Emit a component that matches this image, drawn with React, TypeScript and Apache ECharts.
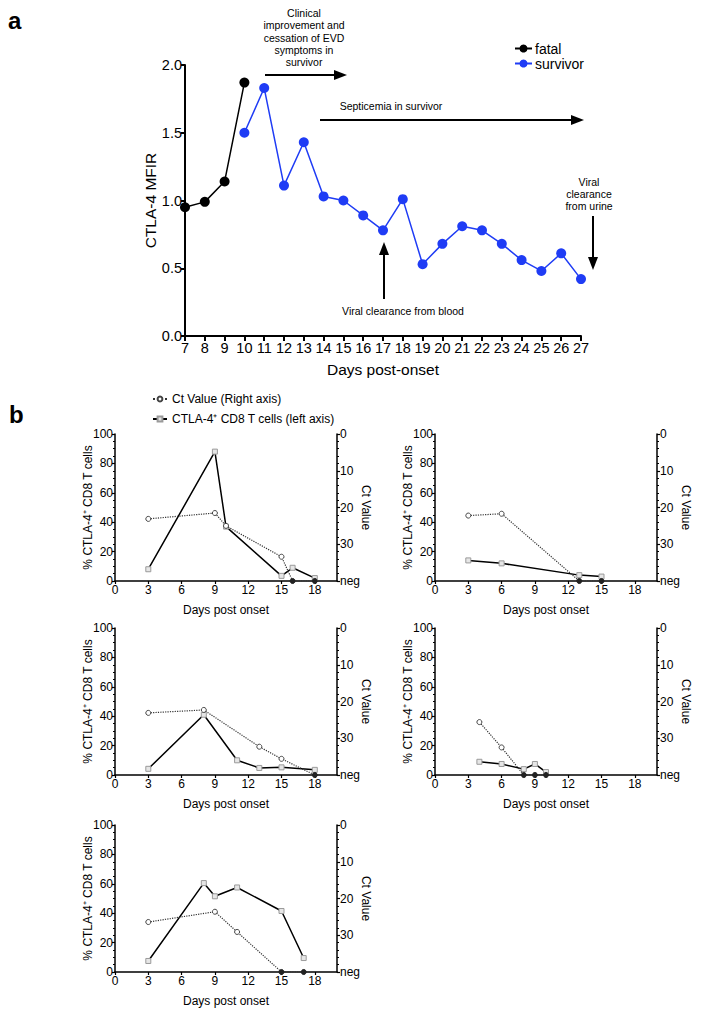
import React, { useEffect, useRef } from "react";
import * as echarts from "echarts";

// ---------- Panel a data ----------
const fatalDays = [7, 8, 9, 10];
const fatalMFIR = [0.95, 0.99, 1.14, 1.87];
const survivorDays = [10, 11, 12, 13, 14, 15, 16, 17, 18, 19, 20, 21, 22, 23, 24, 25, 26, 27];
const survivorMFIR = [1.5, 1.83, 1.11, 1.43, 1.03, 1.0, 0.89, 0.78, 1.01, 0.53, 0.68, 0.81, 0.78, 0.68, 0.56, 0.48, 0.61, 0.42];

// ---------- Panel b data (Ct 40 = "neg") ----------
const p1Days = [3, 9, 10, 15, 16, 18];
const p1Ctla = [8, 88, 37, 3.5, 9, 2];
const p1CtDays = [3, 9, 10, 15, 16, 18];
const p1Ct = [23.1, 21.5, 25, 33.4, 40, 40];

const p2Days = [3, 6, 13, 15];
const p2Ctla = [14, 12, 4, 3];
const p2CtDays = [3, 6, 13, 15];
const p2Ct = [22.2, 21.7, 40, 40];

const p3Days = [3, 8, 11, 13, 15, 18];
const p3Ctla = [4.2, 41, 10, 4.8, 5.2, 3.5];
const p3CtDays = [3, 8, 13, 15, 18];
const p3Ct = [23.1, 22.3, 32.3, 35.6, 40];

const p4Days = [4, 6, 8, 9, 10];
const p4Ctla = [9, 7.5, 4, 7.5, 2];
const p4CtDays = [4, 6, 8, 9, 10];
const p4Ct = [25.6, 32.5, 40, 40, 40];

const p5Days = [3, 8, 9, 11, 15, 17];
const p5Ctla = [7.5, 60.5, 51.5, 57.5, 41.5, 9.5];
const p5CtDays = [3, 9, 11, 15, 17];
const p5Ct = [26.4, 23.6, 29.1, 40, 40];

const NEG = 40;
const ctLegend = "Ct Value (Right axis)";
const ctlaLegend = "CTLA-4\u207A CD8 T cells (left axis)";

const FONT = "Liberation Sans, Arial, Helvetica, sans-serif";
const BLUE = "#1f3cf5";

const panels = [
  { days: p1Days, ctla: p1Ctla, ctDays: p1CtDays, ct: p1Ct, left: 115, top: 434 },
  { days: p2Days, ctla: p2Ctla, ctDays: p2CtDays, ct: p2Ct, left: 435, top: 434 },
  { days: p3Days, ctla: p3Ctla, ctDays: p3CtDays, ct: p3Ct, left: 115, top: 628 },
  { days: p4Days, ctla: p4Ctla, ctDays: p4CtDays, ct: p4Ct, left: 435, top: 628 },
  { days: p5Days, ctla: p5Ctla, ctDays: p5CtDays, ct: p5Ct, left: 115, top: 825 },
];

const zip = (a: number[], b: number[]) => a.map((v, i) => [v, b[i]]);

function arrow(x1: number, y1: number, x2: number, y2: number) {
  const dx = x2 - x1;
  const dy = y2 - y1;
  const len = Math.sqrt(dx * dx + dy * dy);
  const ux = dx / len;
  const uy = dy / len;
  const hl = 13;
  const hw = 5;
  const bx = x2 - ux * hl;
  const by = y2 - uy * hl;
  return [
    { type: "line", shape: { x1, y1, x2: bx, y2: by }, style: { stroke: "#000", lineWidth: 2 } },
    {
      type: "polygon",
      shape: {
        points: [
          [x2, y2],
          [bx - uy * hw, by + ux * hw],
          [bx + uy * hw, by - ux * hw],
        ],
      },
      style: { fill: "#000" },
    },
  ];
}

export default function App() {
  const ref = useRef<HTMLDivElement>(null);

  useEffect(() => {
    if (!ref.current) return;
    const chart = echarts.init(ref.current, null, { renderer: "svg" });

    const grids: any[] = [{ left: 185, top: 65, width: 396, height: 271 }];
    const xAxes: any[] = [
      {
        gridIndex: 0,
        type: "value",
        min: 7,
        max: 27,
        interval: 1,
        name: "Days post-onset",
        nameLocation: "middle",
        nameGap: 25,
        nameMoveOverlap: false,
        nameTextStyle: { fontSize: 15.5, color: "#000", fontFamily: FONT },
        axisLine: { lineStyle: { color: "#000", width: 2 } },
        axisTick: { lineStyle: { color: "#000", width: 2 }, length: 5 },
        axisLabel: { color: "#000", fontSize: 14.5, fontFamily: FONT, margin: 4, hideOverlap: false },
        splitLine: { show: false },
      },
    ];
    const yAxes: any[] = [
      {
        gridIndex: 0,
        type: "value",
        min: 0,
        max: 2,
        interval: 0.5,
        name: "CTLA-4 MFIR",
        nameLocation: "middle",
        nameGap: 27,
        nameMoveOverlap: false,
        nameTextStyle: { fontSize: 15.5, color: "#000", fontFamily: FONT },
        axisLine: { show: true, lineStyle: { color: "#000", width: 2 } },
        axisTick: { show: true, lineStyle: { color: "#000", width: 2 }, length: 4 },
        axisLabel: { color: "#000", fontSize: 14.5, fontFamily: FONT, margin: 3, formatter: (v: number) => v.toFixed(1) },
        splitLine: { show: false },
      },
    ];
    const series: any[] = [
      {
        name: "fatal",
        type: "line",
        xAxisIndex: 0,
        yAxisIndex: 0,
        data: zip(fatalDays, fatalMFIR),
        symbol: "circle",
        symbolSize: 10,
        lineStyle: { color: "#000", width: 1.5 },
        itemStyle: { color: "#000" },
        z: 3,
      },
      {
        name: "survivor",
        type: "line",
        xAxisIndex: 0,
        yAxisIndex: 0,
        data: zip(survivorDays, survivorMFIR),
        symbol: "circle",
        symbolSize: 10,
        lineStyle: { color: BLUE, width: 1.5 },
        itemStyle: { color: BLUE },
        z: 3,
      },
    ];

    const tickStyle = { color: "#000", fontSize: 12, fontFamily: FONT };
    panels.forEach((p, i) => {
      const g = i + 1;
      grids.push({ left: p.left, top: p.top, width: 222, height: 147 });
      xAxes.push({
        gridIndex: g,
        type: "value",
        min: 0,
        max: 20,
        interval: 3,
        name: "Days post onset",
        nameLocation: "middle",
        nameGap: 23,
        nameMoveOverlap: false,
        nameTextStyle: { fontSize: 12, color: "#000", fontFamily: FONT },
        axisLine: { lineStyle: { color: "#000", width: 1.5 } },
        axisTick: { lineStyle: { color: "#000", width: 1.2 }, length: 3 },
        axisLabel: { ...tickStyle, margin: 3, showMaxLabel: false },
        splitLine: { show: false },
      });
      yAxes.push({
        gridIndex: g,
        type: "value",
        position: "left",
        min: 0,
        max: 100,
        interval: 20,
        name: "% CTLA-4\u207A CD8 T cells",
        nameLocation: "middle",
        nameGap: 21,
        nameMoveOverlap: false,
        nameTextStyle: { fontSize: 12, color: "#000", fontFamily: FONT },
        axisLine: { show: true, lineStyle: { color: "#000", width: 1.5 } },
        axisTick: { show: true, lineStyle: { color: "#000", width: 1.2 }, length: 3 },
        minorTick: { show: true, splitNumber: 4, length: 2, lineStyle: { color: "#000", width: 1 } },
        axisLabel: { ...tickStyle, margin: 2 },
        splitLine: { show: false },
      });
      yAxes.push({
        gridIndex: g,
        type: "value",
        position: "right",
        inverse: true,
        min: 0,
        max: NEG,
        interval: 10,
        name: "Ct Value",
        nameLocation: "middle",
        nameGap: 23,
        nameRotate: -90,
        nameMoveOverlap: false,
        nameTextStyle: { fontSize: 12, color: "#000", fontFamily: FONT },
        axisLine: { show: true, lineStyle: { color: "#000", width: 1.5 } },
        axisTick: { show: true, lineStyle: { color: "#000", width: 1.2 }, length: 3 },
        minorTick: { show: true, splitNumber: 5, length: 2, lineStyle: { color: "#000", width: 1 } },
        axisLabel: { ...tickStyle, margin: 3, formatter: (v: number) => (v === NEG ? "neg" : String(v)) },
        splitLine: { show: false },
      });
      const leftIdx = 1 + i * 2;
      series.push({
        name: ctlaLegend,
        type: "line",
        xAxisIndex: g,
        yAxisIndex: leftIdx,
        data: zip(p.days, p.ctla),
        symbol: "rect",
        symbolSize: 5,
        lineStyle: { color: "#000", width: 1.5 },
        itemStyle: { color: "#e6e6e6", borderColor: "#9a9a9a", borderWidth: 1 },
        z: 3,
      });
      series.push({
        name: ctLegend,
        type: "line",
        xAxisIndex: g,
        yAxisIndex: leftIdx + 1,
        data: p.ctDays.map((d, k) => {
          const v = p.ct[k];
          return v === NEG
            ? { value: [d, v], itemStyle: { color: "#222", borderColor: "#222" } }
            : { value: [d, v] };
        }),
        symbol: "circle",
        symbolSize: 5,
        showAllSymbol: true,
        lineStyle: { color: "#333", width: 1.2, type: "dotted" },
        itemStyle: { color: "#fff", borderColor: "#444", borderWidth: 1 },
        z: 4,
      });
    });

    const annFont = { fontSize: 10.5, fontFamily: FONT, fill: "#000" };
    const graphics: any[] = [
      { type: "text", x: 8, y: 8, style: { text: "a", fontSize: 24, fontWeight: "bold", fontFamily: FONT, fill: "#000" } },
      { type: "text", x: 9, y: 402, style: { text: "b", fontSize: 24, fontWeight: "bold", fontFamily: FONT, fill: "#000" } },
      {
        type: "text",
        x: 304,
        y: 7,
        style: {
          ...annFont,
          text: "Clinical\nimprovement and\ncessation of EVD\nsymptoms in\nsurvivor",
          lineHeight: 12.3,
          align: "center",
          verticalAlign: "top",
        },
      },
      ...arrow(265, 75, 347, 75),
      {
        type: "text",
        x: 391,
        y: 106,
        style: { ...annFont, text: "Septicemia in survivor", align: "center", verticalAlign: "middle" },
      },
      ...arrow(320, 120, 584, 120),
      ...arrow(384, 299, 384, 242),
      {
        type: "text",
        x: 403,
        y: 311,
        style: { ...annFont, text: "Viral clearance from blood", align: "center", verticalAlign: "middle" },
      },
      {
        type: "text",
        x: 589,
        y: 175.5,
        style: {
          ...annFont,
          text: "Viral\nclearance\nfrom urine",
          lineHeight: 12.3,
          align: "center",
          verticalAlign: "top",
        },
      },
      ...arrow(593, 216, 593, 270),
    ];

    chart.setOption({
      animation: false,
      backgroundColor: "#fff",
      grid: grids,
      xAxis: xAxes,
      yAxis: yAxes,
      series,
      legend: [
        {
          data: ["fatal", "survivor"],
          left: 509,
          top: 36,
          orient: "vertical",
          itemGap: 0,
          itemWidth: 17,
          itemHeight: 10,
          textStyle: { fontSize: 14, lineHeight: 15, color: "#000", fontFamily: FONT, padding: [0, 0, 0, -2] },
          selectedMode: false,
        },
        {
          data: [ctLegend, ctlaLegend],
          left: 147,
          top: 388,
          orient: "vertical",
          itemGap: 8,
          itemWidth: 14,
          itemHeight: 6,
          textStyle: { fontSize: 12, color: "#000", fontFamily: FONT },
          selectedMode: false,
        },
      ],
      graphic: graphics,
    });

    return () => chart.dispose();
  }, []);

  return <div ref={ref} style={{ position: "absolute", left: 0, top: 0, width: 701, height: 1017 }} />;
}
